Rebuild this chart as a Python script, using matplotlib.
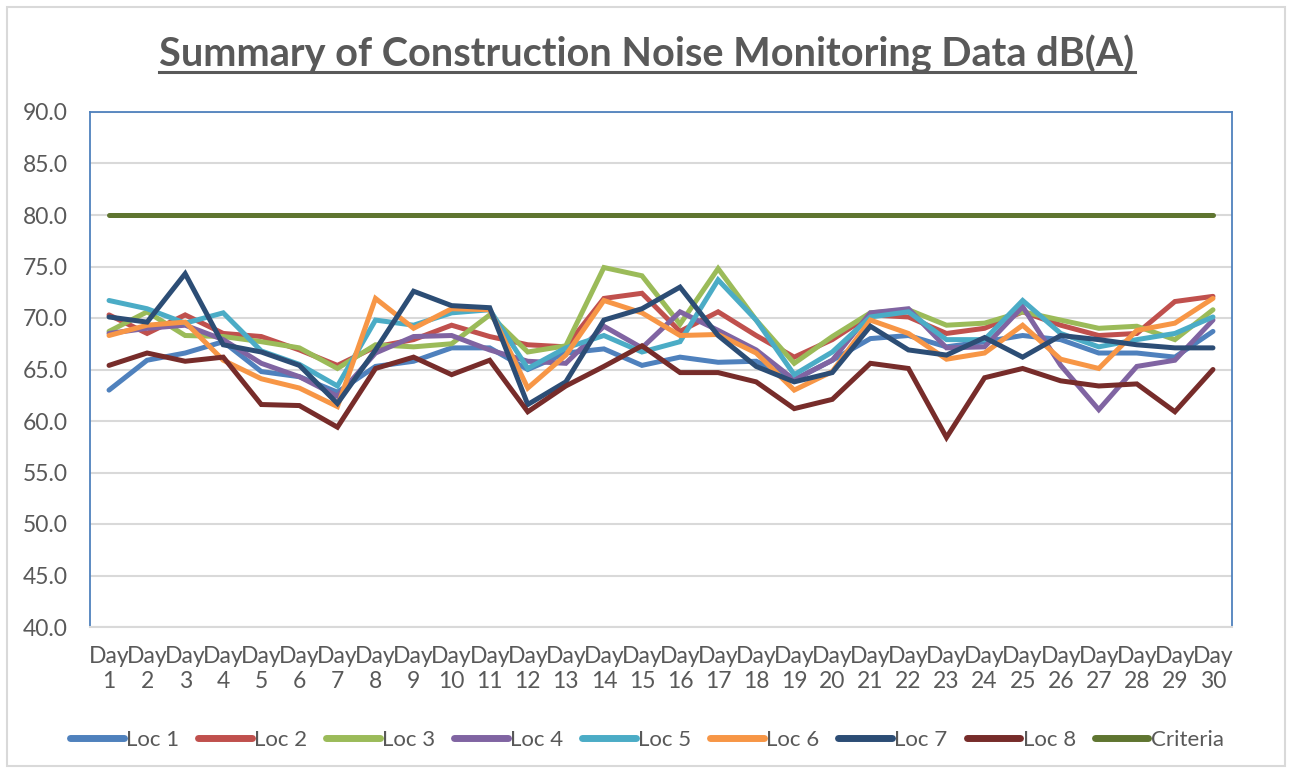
import matplotlib
matplotlib.use("Agg")
import matplotlib.pyplot as plt
from matplotlib.lines import Line2D
from matplotlib.patches import Rectangle

days = [f"Day\n{i}" for i in range(1, 31)]

loc1 = [63.0, 65.9, 66.6, 67.7, 64.8, 64.3, 62.8, 65.3, 65.8, 67.1,
        67.1, 65.0, 66.6, 67.0, 65.4, 66.2, 65.7, 65.8, 64.0, 65.9,
        68.0, 68.3, 67.2, 67.7, 68.3, 67.9, 66.6, 66.6, 66.2, 68.7]
loc2 = [70.3, 68.5, 70.3, 68.5, 68.2, 66.9, 65.4, 67.2, 67.9, 69.3,
        68.2, 67.4, 67.2, 71.9, 72.4, 68.7, 70.6, 68.3, 66.2, 67.9,
        70.3, 70.1, 68.5, 69.0, 70.6, 69.3, 68.3, 68.5, 71.6, 72.1]
loc3 = [68.7, 70.6, 68.3, 68.2, 67.7, 67.1, 65.1, 67.4, 67.2, 67.5,
        70.3, 66.7, 67.3, 74.9, 74.1, 69.4, 74.8, 69.8, 65.6, 68.2,
        70.5, 70.8, 69.3, 69.5, 70.6, 69.8, 69.0, 69.2, 67.9, 70.8]
loc4 = [68.5, 69.0, 69.3, 67.9, 65.6, 64.3, 62.4, 66.6, 68.2, 68.3,
        66.9, 65.8, 65.6, 69.2, 67.1, 70.6, 68.8, 66.9, 64.0, 65.9,
        70.5, 70.9, 67.1, 67.2, 71.1, 65.4, 61.1, 65.3, 65.9, 69.8]
loc5 = [71.7, 70.9, 69.5, 70.5, 66.8, 65.5, 63.4, 69.8, 69.3, 70.5,
        70.8, 65.1, 67.1, 68.3, 66.7, 67.7, 73.7, 69.8, 64.5, 66.7,
        70.1, 70.6, 67.9, 67.9, 71.7, 68.5, 67.2, 67.9, 68.5, 70.1]
loc6 = [68.3, 69.3, 69.6, 65.9, 64.1, 63.2, 61.4, 71.9, 69.0, 70.9,
        70.8, 63.2, 66.4, 71.7, 70.5, 68.3, 68.4, 66.6, 63.0, 64.8,
        69.8, 68.5, 66.0, 66.6, 69.3, 66.0, 65.1, 68.8, 69.5, 71.9]
loc7 = [70.1, 69.6, 74.3, 67.4, 66.7, 65.4, 61.7, 66.9, 72.6, 71.2,
        71.0, 61.6, 63.8, 69.8, 70.9, 73.0, 68.3, 65.3, 63.8, 64.7,
        69.2, 66.9, 66.4, 68.1, 66.2, 68.3, 67.9, 67.4, 67.1, 67.1]
loc8 = [65.4, 66.6, 65.8, 66.2, 61.6, 61.5, 59.4, 65.1, 66.2, 64.5,
        65.9, 60.9, 63.4, 65.3, 67.3, 64.7, 64.7, 63.8, 61.2, 62.1,
        65.6, 65.1, 58.4, 64.2, 65.1, 63.9, 63.4, 63.6, 60.9, 65.0]
criteria = [80.0] * 30

series = [
    ("Loc 1", loc1, "#4F81BD"),
    ("Loc 2", loc2, "#C0504D"),
    ("Loc 3", loc3, "#9BBB59"),
    ("Loc 4", loc4, "#8064A2"),
    ("Loc 5", loc5, "#4BACC6"),
    ("Loc 6", loc6, "#F79646"),
    ("Loc 7", loc7, "#2C4D75"),
    ("Loc 8", loc8, "#772C2A"),
    ("Criteria", criteria, "#5F7530"),
]

plt.rcParams["font.family"] = ["Lato", "DejaVu Sans"]
txt = "#595959"

W, H = 1294, 773
fig = plt.figure(figsize=(W / 100, H / 100), dpi=100)

# outer chart border
fig.patches.append(Rectangle((7 / W, 7 / H), (W - 16) / W, (H - 14) / H,
                             transform=fig.transFigure, fill=False,
                             edgecolor="#D9D9D9", linewidth=1.5))

left, top, right, bottom = 90, 112, 1232, 627
ax = fig.add_axes([left / W, (H - bottom) / H, (right - left) / W, (bottom - top) / H])

x = list(range(1, 31))
for name, vals, col in series:
    ax.plot(x, vals, color=col, linewidth=3.6, label=name,
            solid_capstyle="round", solid_joinstyle="miter")

ax.set_xlim(0.5, 30.5)
ax.set_ylim(40, 90)
ax.set_yticks(range(40, 91, 5))
ax.set_yticklabels([f"{v:.1f}" for v in range(40, 91, 5)])
ax.set_xticks(x)
ax.set_xticklabels(days, linespacing=1.2)
ax.grid(axis="y", color="#D9D9D9", linewidth=1.5)
ax.set_axisbelow(True)
ax.tick_params(length=0, labelsize=16.5, colors=txt)
ax.tick_params(axis="y", pad=16)
ax.tick_params(axis="x", pad=14)
for s in ["left", "right", "top"]:
    ax.spines[s].set_color("#4F81BD")
    ax.spines[s].set_linewidth(1.3)
ax.spines["bottom"].set_color("#D9D9D9")
ax.spines["bottom"].set_linewidth(1.5)

# title with underline
t = fig.text(0.5, 1 - 67 / H, "Summary of Construction Noise Monitoring Data dB(A)",
             ha="center", va="baseline", fontsize=28.5, fontweight="bold", color=txt)
fig.canvas.draw()
bb = t.get_window_extent()
uy = 1 - 72 / H
fig.add_artist(Line2D([bb.x0 / W, bb.x1 / W], [uy, uy], transform=fig.transFigure,
                      color=txt, linewidth=2.2))

handles = [Line2D([0], [0], color=c, linewidth=5, solid_capstyle="round") for _, _, c in series]
labels = [n for n, _, _ in series]
leg = fig.legend(handles, labels, loc="center", bbox_to_anchor=(0.5, 1 - 740 / H),
                 ncol=9, frameon=False, fontsize=16, handlelength=2.4,
                 handletextpad=0.12, columnspacing=0.85)
for tx in leg.get_texts():
    tx.set_color(txt)

fig.savefig("out.png", dpi=100)
